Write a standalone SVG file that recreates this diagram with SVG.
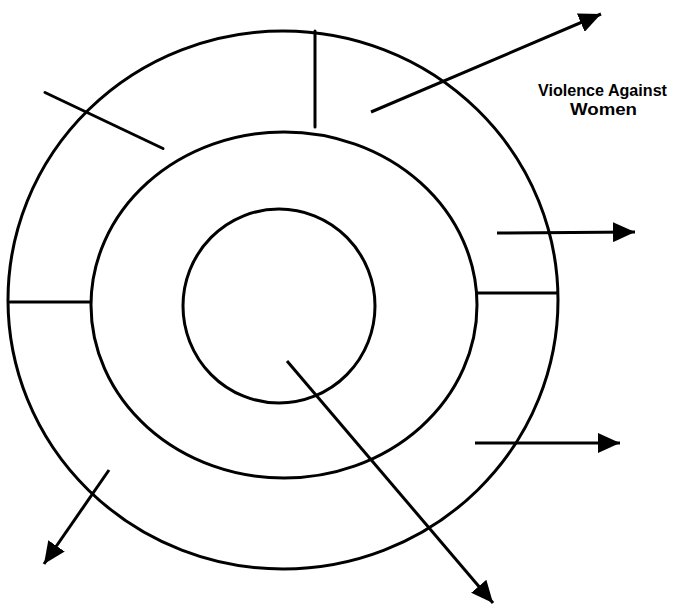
<svg xmlns="http://www.w3.org/2000/svg" width="676" height="605" viewBox="0 0 676 605">
<style>
.ring{fill:none;stroke:#000;stroke-width:3}
.ln{stroke:#000;stroke-width:3;fill:none;stroke-linecap:round}
.arr{stroke:#000;stroke-width:3;fill:none;marker-end:url(#ah)}
.lbl{font-family:"Liberation Sans",Arial,sans-serif;font-weight:bold;font-size:16px;fill:#000}
</style>
<defs>
<marker id="ah" markerUnits="userSpaceOnUse" markerWidth="22" markerHeight="20" refX="22" refY="10" orient="auto" viewBox="0 0 22 20">
<path d="M0,0 L22,10 L0,20 z" fill="#000"/>
</marker>
</defs>
<rect width="676" height="605" fill="#fff"/>
<g id="outer-ring"><ellipse class="ring" cx="283" cy="300" rx="275" ry="269"/></g>
<g id="middle-ring"><ellipse class="ring" cx="284" cy="305" rx="193" ry="173"/></g>
<g id="inner-ring"><ellipse class="ring" cx="279" cy="306" rx="96" ry="97"/></g>
<g id="connectors">
<line class="ln" x1="315" y1="31" x2="315" y2="127"/>
<line class="ln" x1="45" y1="92.5" x2="163" y2="148.5"/>
<line class="ln" x1="477" y1="293" x2="557" y2="293"/>
<line class="ln" x1="10" y1="302" x2="90" y2="302"/>
<line class="arr" x1="371" y1="112" x2="601" y2="14"/>
<line class="arr" x1="497" y1="233" x2="635" y2="232"/>
<line class="arr" x1="475" y1="443" x2="620" y2="443"/>
<line class="arr" x1="109" y1="470" x2="44" y2="564"/>
<line class="arr" x1="287" y1="361" x2="493" y2="603"/>
</g>
<g id="label">
<text class="lbl" x="538" y="96" textLength="129" lengthAdjust="spacingAndGlyphs">Violence Against</text>
<text class="lbl" x="570" y="115" textLength="67" lengthAdjust="spacingAndGlyphs">Women</text>
</g>
</svg>
